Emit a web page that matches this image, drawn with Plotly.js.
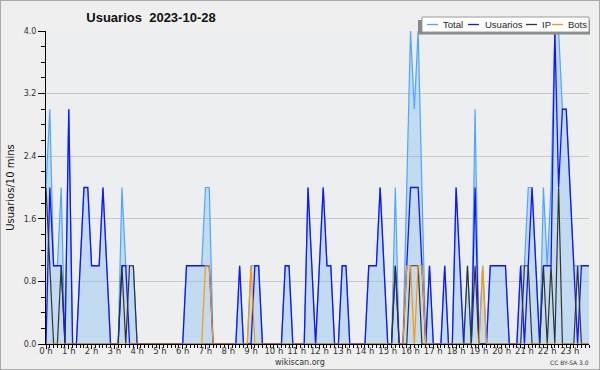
<!DOCTYPE html>
<html><head><meta charset="utf-8">
<script src="https://cdn.plot.ly/plotly-3.0.1.min.js"></script>
<style>
html,body{margin:0;padding:0;background:#efefef}
#wrap{position:relative;width:600px;height:370px}
#chart{width:600px;height:370px}
#frame{position:absolute;left:0;top:0;width:600px;height:370px;box-sizing:border-box;border:1px solid #aaa;pointer-events:none}
</style>
</head><body><div id="wrap"><div id="chart"></div><div id="frame"></div></div>
<script>
// Time slots: 10-minute intervals (minutes since midnight)
const slotMinutes = Array.from({length: 144}, (_, i) => i * 10);

// Hour tick labels
const hourTickVals = Array.from({length: 24}, (_, h) => h * 60);
const hourTickText = ["0 h","1 h","2 h","3 h","4 h","5 h","6 h","7 h","8 h","9 h","10 h","11 h",
  "12 h","13 h","14 h","15 h","16 h","17 h","18 h","19 h","20 h","21 h","22 h","23 h"];

const seriesNames = ["Total", "Usuarios", "IP", "Bots"];

const total = [
  2,3,1,1,2,0,  3,0,0,1,2,2,  1,1,1,2,1,0,  0,0,2,1,1,1,
  0,0,0,0,0,0,  0,0,0,0,0,0,  0,1,1,1,1,1,  2,2,0,0,0,0,
  0,0,0,1,0,0,  1,1,1,0,0,0,  0,0,0,1,1,0,  0,0,0,2,1,0,
  1,2,1,1,0,0,  1,1,0,0,0,0,  0,1,1,1,2,1,  0,0,2,0,0,2,
  4,3,4,2,0,1,  0,0,0,1,0,0,  2,1,0,1,0,3,  0,1,0,1,1,1,
  1,1,0,0,0,1,  1,2,2,1,0,2,  1,2,4,4,3,3,  2,1,1,1,1,1
];
const usuarios = [
  0,2,1,1,1,0,  3,0,0,1,2,2,  1,1,1,2,1,0,  0,0,1,1,0,0,
  0,0,0,0,0,0,  0,0,0,0,0,0,  0,1,1,1,1,1,  1,1,0,0,0,0,
  0,0,0,1,0,0,  0,1,1,0,0,0,  0,0,0,1,1,0,  0,0,0,2,1,0,
  1,2,1,1,0,0,  1,1,0,0,0,0,  0,1,1,1,2,1,  0,0,1,0,0,1,
  2,2,2,1,0,1,  0,0,0,1,0,0,  2,1,0,0,0,2,  0,0,0,1,1,1,
  1,1,0,0,0,1,  0,1,2,1,0,1,  1,1,4,2,3,3,  2,1,0,1,1,1
];
const ip = [
  2,1,0,0,1,0,  0,0,0,0,0,0,  0,0,0,0,0,0,  0,0,1,0,1,1,
  0,0,0,0,0,0,  0,0,0,0,0,0,  0,0,0,0,0,0,  0,0,0,0,0,0,
  0,0,0,0,0,0,  0,0,0,0,0,0,  0,0,0,0,0,0,  0,0,0,0,0,0,
  0,0,0,0,0,0,  0,0,0,0,0,0,  0,0,0,0,0,0,  0,0,1,0,0,0,
  1,1,1,0,0,0,  0,0,0,0,0,0,  0,0,0,1,0,1,  0,0,0,0,0,0,
  0,0,0,0,0,0,  1,1,0,0,0,1,  0,1,0,2,0,0,  0,0,1,0,0,0
];
const bots = [
  0,0,0,0,0,0,  0,0,0,0,0,0,  0,0,0,0,0,0,  0,0,0,0,0,0,
  0,0,0,0,0,0,  0,0,0,0,0,0,  0,0,0,0,0,0,  1,1,0,0,0,0,
  0,0,0,0,0,0,  1,0,0,0,0,0,  0,0,0,0,0,0,  0,0,0,0,0,0,
  0,0,0,0,0,0,  0,0,0,0,0,0,  0,0,0,0,0,0,  0,0,0,0,0,1,
  1,0,1,1,0,0,  0,0,0,0,0,0,  0,0,0,0,0,0,  0,1,0,0,0,0,
  0,0,0,0,0,0,  0,0,0,0,0,0,  0,0,0,0,0,0,  0,0,0,0,0,0
];

const colors = {Total: '#4da6ff', Usuarios: '#1414ff', IP: '#333333', Bots: '#ff9900'};

const traces = [
  {x: slotMinutes, y: total, name: 'Total', type: 'scatter', mode: 'lines',
   line: {color: colors.Total, width: 1.2}, fill: 'tozeroy', fillcolor: 'rgba(123,189,240,0.38)'},
  {x: slotMinutes, y: usuarios, name: 'Usuarios', type: 'scatter', mode: 'lines',
   line: {color: colors.Usuarios, width: 1.3}},
  {x: slotMinutes, y: ip, name: 'IP', type: 'scatter', mode: 'lines',
   line: {color: colors.IP, width: 1.2}},
  {x: slotMinutes, y: bots, name: 'Bots', type: 'scatter', mode: 'lines',
   line: {color: colors.Bots, width: 1.2}}
];

// pixel -> paper helpers for decorations
const PL = 46, PR = 589, PT = 31, PB = 344;
const px = x => (x - PL) / (PR - PL);
const py = y => (PB - y) / (PB - PT);

const shapes = [
  {type: 'rect', xref: 'paper', yref: 'paper', x0: px(418), x1: px(590), y0: py(34.5), y1: py(20),
   fillcolor: '#888888', line: {width: 0}, layer: 'above'},
  {type: 'rect', xref: 'paper', yref: 'paper', x0: px(422), x1: px(589), y0: py(32), y1: py(17),
   fillcolor: '#ffffff', line: {color: '#9a9a9a', width: 1}, layer: 'above'}
];
const legendPos = [
  {name: 'Total', l0: 427, l1: 438, t: 441.5},
  {name: 'Usuarios', l0: 468, l1: 479, t: 483.5},
  {name: 'IP', l0: 526, l1: 537, t: 540.5},
  {name: 'Bots', l0: 552, l1: 563, t: 567}
];
const annotations = [];
legendPos.forEach(p => {
  shapes.push({type: 'line', xref: 'paper', yref: 'paper', x0: px(p.l0), x1: px(p.l1), y0: py(24.5), y1: py(24.5),
    line: {color: colors[p.name], width: 1.3}, layer: 'above'});
  annotations.push({xref: 'paper', yref: 'paper', x: px(p.t), y: py(24.5), xanchor: 'left', yanchor: 'middle',
    text: p.name, showarrow: false, borderpad: 0,
    font: {family: 'Liberation Sans, Arial, sans-serif', size: 9.5, color: '#222'}});
});
annotations.push({xref: 'paper', yref: 'paper', x: px(300), y: py(362), xanchor: 'center', yanchor: 'middle',
  text: 'wikiscan.org', showarrow: false, borderpad: 0, font: {family: 'DejaVu Sans', size: 8, color: '#333'}});
annotations.push({xref: 'paper', yref: 'paper', x: px(589.5), y: py(362.5), xanchor: 'right', yanchor: 'middle',
  text: 'CC BY-SA 3.0', showarrow: false, borderpad: 0, font: {family: 'DejaVu Sans', size: 6, color: '#333'}});

const layout = {
  width: 600, height: 370,
  margin: {l: 46, r: 11, t: 31, b: 26, pad: 0},
  paper_bgcolor: '#efefef', plot_bgcolor: '#edeef0',
  showlegend: false,
  title: {text: 'Usuarios\u00a0 2023-10-28', font: {family: 'Liberation Sans, Arial, sans-serif', size: 13, color: '#111', weight: 'bold'},
    xref: 'paper', x: px(151), xanchor: 'center', yref: 'container', y: 1 - 17/370, yanchor: 'middle'},
  xaxis: {range: [0, 1430], tickmode: 'array', tickvals: hourTickVals, ticktext: hourTickText,
    ticks: 'outside', ticklen: 4, tickwidth: 1, tickcolor: '#000', ticklabelstandoff: -5,
    showline: true, linecolor: '#000', linewidth: 1, showgrid: false, zeroline: false,
    tickfont: {family: 'DejaVu Sans', size: 8.5, color: '#333'},
    minor: {tickmode: 'linear', tick0: 0, dtick: 10, ticks: 'outside', ticklen: 3, tickcolor: '#000', tickwidth: 1, showgrid: false},
    fixedrange: true},
  yaxis: {range: [0, 4], tick0: 0, dtick: 0.8, tickformat: '.1f',
    ticks: 'outside', ticklen: 7, tickwidth: 1, tickcolor: '#000',
    showline: true, linecolor: '#000', linewidth: 1, showgrid: true, gridcolor: '#c8c8c8', gridwidth: 1, zeroline: false,
    tickfont: {family: 'DejaVu Sans', size: 8, color: '#333'},
    minor: {tick0: 0, dtick: 0.2, ticks: 'outside', ticklen: 4, tickcolor: '#000', tickwidth: 1, showgrid: false},
    title: {text: 'Usuarios/10 mins', font: {family: 'DejaVu Sans', size: 10, color: '#111'}, standoff: 7},
    fixedrange: true},
  shapes: shapes,
  annotations: annotations
};

Plotly.newPlot('chart', traces, layout, {staticPlot: true, displayModeBar: false});
</script></body></html>
